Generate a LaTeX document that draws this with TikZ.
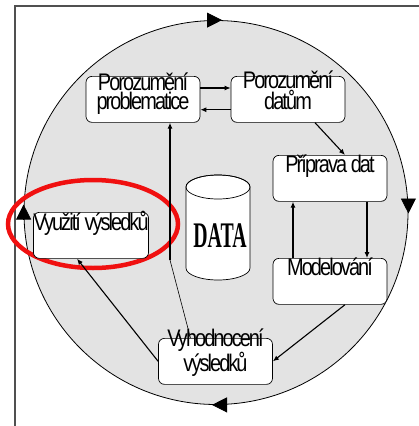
\documentclass[tikz,border=0pt]{standalone}
\usepackage{fontspec}
\newfontfamily\condfont[FakeStretch=0.83, LetterSpace=-8]{Liberation Sans}
\newfontfamily\datafont[FakeStretch=0.55]{Liberation Serif}
\usetikzlibrary{arrows.meta}
\definecolor{circfill}{HTML}{E3E3E3}
\definecolor{framecol}{HTML}{505050}
\definecolor{hlred}{HTML}{F01010}
\tikzset{
  box/.style={draw, rounded corners=6pt, fill=white, line width=0.7pt,
    minimum width=114pt, inner sep=0pt, text height=17pt, text depth=29pt,
    align=center, anchor=north, font=\condfont\fontsize{24}{16}\selectfont},
  twoline/.style={box, text height=33pt, text depth=13pt},
  conn/.style={line width=1.1pt, -{Latex[length=6pt,width=5pt]}},
  thinconn/.style={line width=0.6pt},
  bigtip/.style={line width=0.8pt, -{Triangle[length=15pt,width=15pt]}},
  cyc/.style={circle, draw, line width=0.8pt, fill=circfill, minimum size=384pt, inner sep=0pt},
  framestyle/.style={draw=framecol, line width=1.5pt},
  hl/.style={draw=hlred, line width=4.5pt},
  datatext/.style={anchor=base, inner sep=0pt, font=\datafont\bfseries\fontsize{36}{36}\selectfont}
}
\begin{document}
\begin{tikzpicture}[x=1pt, y=-1pt]
\useasboundingbox (0,0) rectangle (419,426);
% frame
\coordinate (f0) at (15,426);
\coordinate (f1) at (15,6);
\coordinate (f2) at (419,6);
\draw[framestyle] (f0) -- (f1) -- (f2);
% cycle circle
\node[cyc] (cyc) at (216,212.5) {};
% highlight
\draw[hl] (93,224) ellipse [x radius=85, y radius=44];
% circle arrows
\draw[bigtip] ([xshift=-9pt]cyc.north) -- ([xshift=6pt]cyc.north);
\draw[bigtip] ([yshift=8pt]cyc.east) -- ([yshift=-1pt]cyc.east);
\draw[bigtip] ([xshift=9pt]cyc.south) -- ([xshift=-4pt]cyc.south);
\draw[bigtip] ([yshift=-6pt]cyc.west) -- ([yshift=8pt]cyc.west);
% boxes
\node[twoline] (b1) at (143,76) {Porozumění\\problematice};
\node[twoline] (b2) at (288,76) {Porozumění\\datům};
\node[box] (b3) at (330,155) {Příprava dat};
\node[box] (b4) at (330,258) {Modelování};
\node[box, text height=18pt, text depth=28pt] (b5) at (91,212) {Využití výsledků};
\node[twoline] (b6) at (215.5,338) {Vyhodnocení\\výsledků};
% data cylinder
\draw[fill=white, line width=0.7pt] (186,187) -- (186,268)
  arc[start angle=180, end angle=0, x radius=32, y radius=12] -- (250,187)
  arc[start angle=0, end angle=-180, x radius=32, y radius=12] -- cycle;
\draw[line width=0.7pt] (218,187) ellipse [x radius=32, y radius=12];
\node[datatext] (data) at (220,247) {DATA};
% connectors
\draw[conn] ([yshift=-12pt]b1.north east) -- ([yshift=-12pt]b2.north west);
\draw[conn] ([yshift=13pt]b2.south west) -- ([yshift=13pt]b1.south east);
\draw[conn] ([xshift=27pt]b2.south) -- ([xshift=15pt]b3.north);
\draw[conn] ([xshift=37pt]b3.south) -- ([xshift=37pt]b4.north);
\draw[conn] ([xshift=-37pt]b4.north) -- ([xshift=-37pt]b3.south);
\draw[conn] ([xshift=15pt]b4.south) -- (b6.east);
\draw[conn] (b6.west) -- ([xshift=-14pt]b5.south);
\coordinate (j) at (170,260);
\draw[thinconn] ([xshift=-25pt]b6.north) -- (j);
\draw[conn] (j) -- ([xshift=27pt]b1.south);
\end{tikzpicture}
\end{document}
